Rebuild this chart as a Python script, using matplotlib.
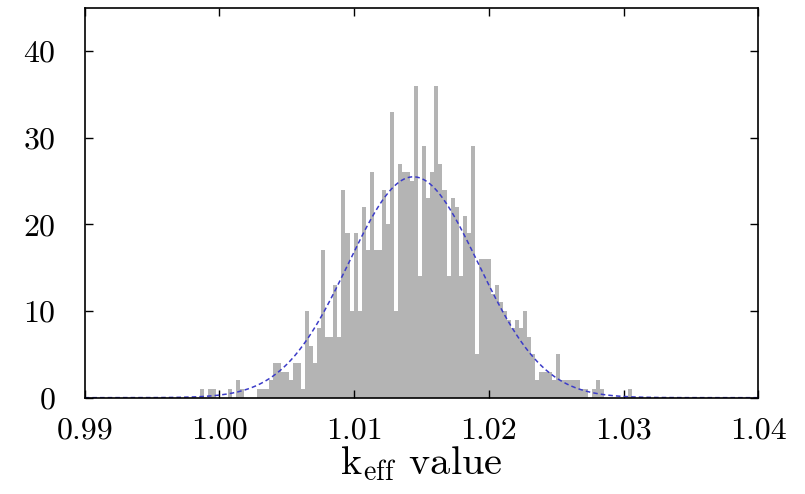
import numpy as np
import matplotlib
matplotlib.use("Agg")
import matplotlib.pyplot as plt

# ---- data ----
bin_start = 0.99855
bin_width = 0.0003
counts = [1, 0, 1, 1, 0, 0, 0, 1, 0, 2,
          1, 0, 0, 0, 1, 1, 1, 2, 4, 4,
          3, 3, 2, 4, 4, 1, 10, 6, 4, 8,
          17, 7, 7, 13, 7, 24, 19, 10, 19, 10,
          22, 17, 26, 17, 17, 24, 20, 33, 10, 27,
          26, 26, 25, 36, 14, 29, 23, 26, 36, 27,
          24, 14, 23, 22, 14, 21, 19, 29, 5, 16,
          16, 16, 12, 13, 11, 10, 9, 8, 9, 8,
          10, 7, 5, 2, 3, 3, 3, 2, 5, 2,
          2, 2, 2, 2, 1, 1, 0, 1, 2, 1,
          0, 0, 0, 0, 0, 0, 1]

# fitted normal curve parameters
fit_mu = 1.01439
fit_sigma = 0.00483
fit_peak = 25.5

xticks = [0.99, 1.00, 1.01, 1.02, 1.03, 1.04]
xticklabels = ["0.99", "1.00", "1.01", "1.02", "1.03", "1.04"]
yticks = [0, 10, 20, 30, 40]

plt.rcParams['mathtext.fontset'] = 'cm'
plt.rcParams['font.family'] = ['cmr10', 'DejaVu Serif']
plt.rcParams['axes.formatter.use_mathtext'] = True

fig = plt.figure(figsize=(8.05, 4.94), dpi=100)
ax = fig.add_axes([0.1053, 0.195, 0.8368, 0.789])

counts_arr = np.array(counts, dtype=float)
lefts = bin_start + bin_width * np.arange(len(counts_arr))
ax.bar(lefts, counts_arr, width=bin_width, align='edge',
       color='#b4b4b4', linewidth=0, zorder=1)

xs = np.linspace(0.99, 1.04, 800)
ys = fit_peak * np.exp(-0.5 * ((xs - fit_mu) / fit_sigma) ** 2)
ax.plot(xs, ys, color='#3c3cc8', lw=1.1, dashes=(3, 2), zorder=2)

ax.set_xlim(0.99, 1.04)
ax.set_ylim(0, 45)
ax.set_xticks(xticks)
ax.set_xticklabels(xticklabels)
ax.set_yticks(yticks)
ax.tick_params(direction='in', top=True, right=True, length=6, width=1.0,
               labelsize=23)
ax.tick_params(axis='y', pad=21)
ax.tick_params(axis='x', pad=14)
for s in ax.spines.values():
    s.set_linewidth(1.2)
    s.set_zorder(3)
ax.set_xlabel(r"k$_\mathrm{eff}$ value", fontsize=29, labelpad=0)

fig.savefig("out.png", dpi=100)
